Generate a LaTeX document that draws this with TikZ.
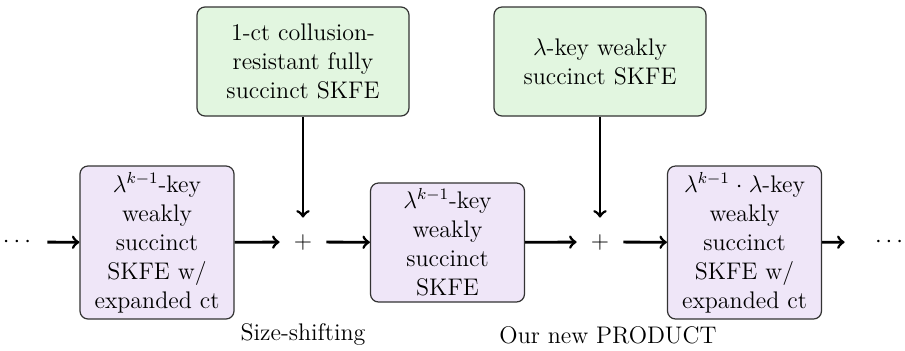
\documentclass[tikz,border=0pt]{standalone}
\definecolor{purpfill}{RGB}{239,230,248}
\definecolor{greenfill}{RGB}{226,246,224}
\begin{document}
\begin{tikzpicture}[x=0.5pt,y=-0.5pt,
  every node/.style={font=\fontsize{12}{14.5}\selectfont},
  box/.style={draw=black!80, line width=0.6pt, rounded corners=4pt, align=center, inner sep=0pt},
  pbox/.style={box, fill=purpfill, minimum width=77pt, text width=75pt},
  gbox/.style={box, fill=greenfill, minimum width=106pt, minimum height=54.5pt, text width=104pt},
  arr/.style={->, line width=1.4pt},
  plus/.style={inner sep=0pt, minimum width=23pt, minimum height=24pt}]
\useasboundingbox (0,0) rectangle (905,350);
\node[pbox, minimum height=76.5pt] (a) at (157,242.5) {$\lambda^{k-1}$-key\\weakly\\succinct\\SKFE w/\\expanded ct};
\node[pbox, minimum height=59.5pt] (b) at (447.5,242.5) {$\lambda^{k-1}$-key\\weakly\\succinct\\SKFE};
\node[pbox, minimum height=76.5pt] (c) at (744.5,242.5) {$\lambda^{k-1}\cdot\lambda$-key\\weakly\\succinct\\SKFE w/\\expanded ct};
\node[gbox] (g1) at (303,61.5) {1-ct collusion-\\resistant fully\\succinct SKFE};
\node[gbox] (g2) at (600,61.5) {$\lambda$-key weakly\\succinct SKFE};
\node[plus] (p1) at (303,242) {$+$};
\node[plus] (p2) at (600,242) {$+$};
\node[inner sep=0pt, minimum width=30pt] (d1) at (17,242) {$\cdots$};
\node[inner sep=0pt, minimum width=44pt] (d2) at (889,242) {$\cdots$};
\node (l1) at (303,335) {Size-shifting};
\node (l2) at (608,335) {Our new PRODUCT};
\draw[arr] (d1) -- (a);
\draw[arr] (a) -- (p1);
\draw[arr] (p1) -- (b);
\draw[arr] (b) -- (p2);
\draw[arr] (p2) -- (c);
\draw[arr] (c) -- (d2);
\draw[arr] (g1) -- (p1);
\draw[arr] (g2) -- (p2);
\end{tikzpicture}
\end{document}
